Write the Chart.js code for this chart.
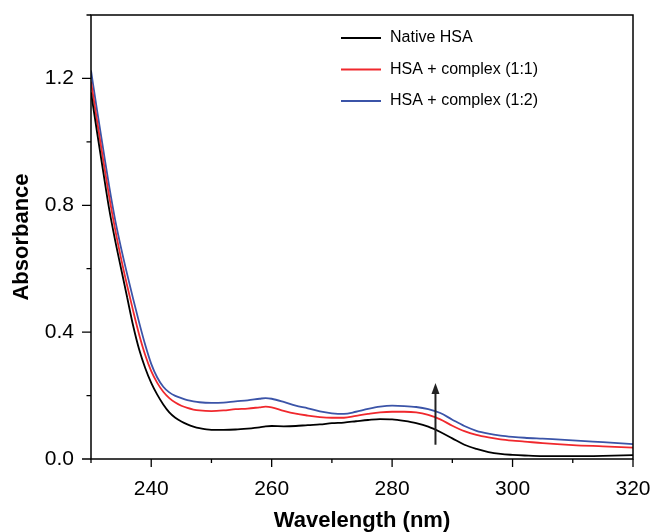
<!DOCTYPE html>
<html>
<head>
<meta charset="utf-8">
<script src="https://cdn.jsdelivr.net/npm/chart.js@4.4.1/dist/chart.umd.min.js"></script>
<style>
  html, body { margin: 0; padding: 0; background: #fff; }
  #wrap { width: 654px; height: 532px; }
</style>
</head>
<body>
<div id="wrap"><canvas id="uv" width="654" height="532"></canvas></div>
<script>
  'use strict';

  // wavelengths (nm) shared by the three spectra
  const WAVELENGTH = [
    230, 231, 232, 233, 234, 235, 236, 237, 238, 239,
    240, 241, 242, 243, 244, 245, 246, 247, 248, 250,
    252, 254, 256, 258, 259, 260, 262, 264, 266, 268,
    270, 272, 274, 276, 278, 280, 282, 284, 286, 288,
    290, 292, 294, 296, 298, 300, 302, 305, 310, 315, 320
  ];

  const NATIVE = [
    1.156, 1.031, 0.909, 0.79, 0.69, 0.60, 0.51, 0.42, 0.345, 0.287,
    0.24, 0.203, 0.172, 0.147, 0.13, 0.118, 0.109, 0.102, 0.097, 0.092,
    0.092, 0.093, 0.096, 0.100, 0.103, 0.104, 0.103, 0.104, 0.107, 0.109,
    0.113, 0.115, 0.119, 0.123, 0.126, 0.125, 0.120, 0.113, 0.102, 0.085,
    0.065, 0.045, 0.032, 0.022, 0.016, 0.013, 0.011, 0.009, 0.009, 0.010, 0.012
  ];

  const COMPLEX_1_1 = [
    1.19, 1.067, 0.946, 0.83, 0.725, 0.632, 0.547, 0.467, 0.392, 0.328,
    0.277, 0.24, 0.212, 0.192, 0.178, 0.168, 0.161, 0.156, 0.153, 0.151,
    0.153, 0.157, 0.159, 0.163, 0.165, 0.163, 0.152, 0.143, 0.137, 0.132,
    0.130, 0.130, 0.136, 0.142, 0.147, 0.149, 0.149, 0.147, 0.139, 0.125,
    0.105, 0.088, 0.076, 0.068, 0.062, 0.058, 0.055, 0.050, 0.044, 0.040, 0.036
  ];

  const COMPLEX_1_2 = [
    1.225, 1.10, 0.98, 0.862, 0.755, 0.665, 0.583, 0.505, 0.43, 0.36,
    0.30, 0.257, 0.228, 0.21, 0.199, 0.192, 0.186, 0.182, 0.179, 0.177,
    0.178, 0.182, 0.185, 0.190, 0.192, 0.190, 0.180, 0.168, 0.160, 0.150,
    0.144, 0.142, 0.149, 0.158, 0.165, 0.168, 0.167, 0.164, 0.157, 0.145,
    0.124, 0.104, 0.089, 0.080, 0.074, 0.070, 0.067, 0.064, 0.059, 0.053, 0.047
  ];

  const SERIES_LABELS = ['Native HSA', 'HSA + complex (1:1)', 'HSA + complex (1:2)'];
  const SERIES_COLORS = ['#000000', '#f0282d', '#3b54a8'];

  const X_MAJOR = [240, 260, 280, 300, 320];
  const X_MINOR = [230, 250, 270, 290, 310];
  const Y_MAJOR = [0, 0.4, 0.8, 1.2];
  const Y_MINOR = [0.2, 0.6, 1.0, 1.4];

  // arrow marking the rising absorbance
  const ARROW_X = 287.2;
  const ARROW_FROM = 0.045;
  const ARROW_TO = 0.24;

  const FONT = "'Liberation Sans', Arial, Helvetica, sans-serif";

  function points(values) {
    return values.map((v, i) => ({ x: WAVELENGTH[i], y: v }));
  }

  const framePlugin = {
    id: 'frame',
    afterDraw(chart) {
      const { ctx, chartArea: a, scales } = chart;
      const xs = scales.x, ys = scales.y;
      ctx.save();
      ctx.strokeStyle = '#000';
      ctx.lineWidth = 1.5;
      ctx.strokeRect(a.left, a.top, a.right - a.left, a.bottom - a.top);

      ctx.lineWidth = 1.3;
      ctx.beginPath();
      X_MAJOR.forEach(v => { const px = xs.getPixelForValue(v); ctx.moveTo(px, a.bottom); ctx.lineTo(px, a.bottom + 8); });
      X_MINOR.forEach(v => { const px = xs.getPixelForValue(v); ctx.moveTo(px, a.bottom); ctx.lineTo(px, a.bottom + 4); });
      Y_MAJOR.forEach(v => { const py = ys.getPixelForValue(v); ctx.moveTo(a.left, py); ctx.lineTo(a.left - 9, py); });
      Y_MINOR.forEach(v => { const py = ys.getPixelForValue(v); ctx.moveTo(a.left, py); ctx.lineTo(a.left - 4.5, py); });
      ctx.stroke();

      // arrow
      const ax = xs.getPixelForValue(ARROW_X);
      const y0 = ys.getPixelForValue(ARROW_FROM);
      const y1 = ys.getPixelForValue(ARROW_TO);
      ctx.strokeStyle = '#222';
      ctx.fillStyle = '#222';
      ctx.lineWidth = 2;
      ctx.beginPath();
      ctx.moveTo(ax, y0);
      ctx.lineTo(ax, y1 + 8);
      ctx.stroke();
      ctx.beginPath();
      ctx.moveTo(ax, y1);
      ctx.lineTo(ax - 4, y1 + 11);
      ctx.lineTo(ax + 4, y1 + 11);
      ctx.closePath();
      ctx.fill();

      // legend
      ctx.font = '16px ' + FONT;
      ctx.textBaseline = 'middle';
      ctx.textAlign = 'left';
      chart.data.datasets.forEach((ds, i) => {
        const y = 38 + i * 31.5;
        ctx.strokeStyle = ds.borderColor;
        ctx.lineWidth = 2;
        ctx.beginPath();
        ctx.moveTo(341, y);
        ctx.lineTo(381, y);
        ctx.stroke();
        ctx.fillStyle = '#000';
        ctx.fillText(ds.label, 390, y);
      });
      ctx.restore();
    }
  };

  new Chart(document.getElementById('uv'), {
    type: 'line',
    data: {
      datasets: [NATIVE, COMPLEX_1_1, COMPLEX_1_2].map((vals, i) => ({
        label: SERIES_LABELS[i],
        data: points(vals),
        borderColor: SERIES_COLORS[i],
        borderWidth: 1.8,
        pointRadius: 0,
        fill: false,
        cubicInterpolationMode: 'monotone'
      }))
    },
    options: {
      responsive: false,
      animation: false,
      layout: { padding: { top: 15, right: 21, left: 0, bottom: 0 } },
      plugins: { legend: { display: false }, tooltip: { enabled: false } },
      scales: {
        x: {
          type: 'linear',
          min: 230,
          max: 320,
          grid: { display: false },
          border: { display: false },
          ticks: {
            stepSize: 20,
            includeBounds: false,
            color: '#000',
            padding: 10,
            maxRotation: 0,
            font: { family: FONT, size: 21 }
          },
          title: {
            display: true,
            text: 'Wavelength (nm)',
            color: '#000',
            font: { family: FONT, size: 22, weight: 'bold' },
            padding: { top: 0, bottom: -2 }
          },
          afterFit(scale) {
            scale.height = 73;
            scale.paddingLeft = 0;
            scale.paddingRight = 0;
          }
        },
        y: {
          min: 0,
          max: 1.4,
          grid: { display: false },
          border: { display: false },
          afterBuildTicks(scale) { scale.ticks = Y_MAJOR.map(v => ({ value: v })); },
          ticks: {
            color: '#000',
            padding: 9,
            font: { family: FONT, size: 21 },
            callback: v => v.toFixed(1)
          },
          title: {
            display: true,
            text: 'Absorbance',
            color: '#000',
            font: { family: FONT, size: 22, weight: 'bold' },
            padding: { top: 9, bottom: 0 }
          },
          afterFit(scale) {
            scale.width = 91;
            scale.paddingTop = 0;
            scale.paddingBottom = 0;
          }
        }
      }
    },
    plugins: [framePlugin]
  });
</script>
</body>
</html>
